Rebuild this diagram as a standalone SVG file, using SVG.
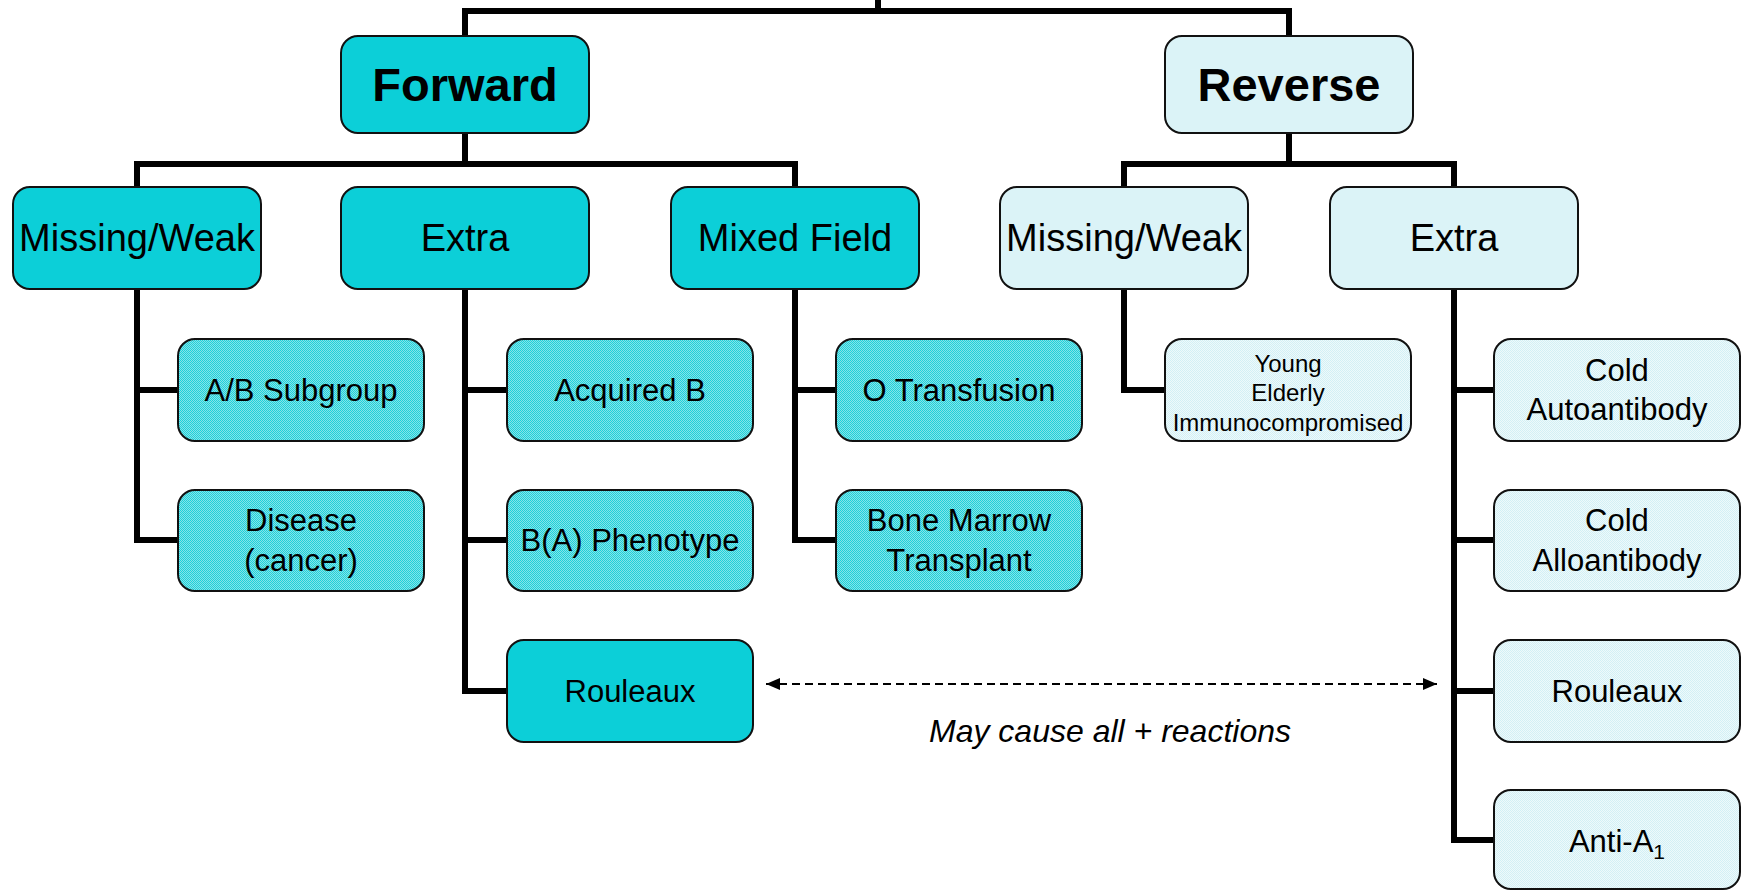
<svg xmlns="http://www.w3.org/2000/svg" width="1742" height="891" viewBox="0 0 1742 891">
<style>
.box{stroke:#111;stroke-width:2}
.dark{fill:#0ccfd8}
.light{fill:#dbf3f7}
.dk3{fill:url(#chkDark)}
.lt3{fill:url(#chkLight)}
.t{font-family:"Liberation Sans",Arial,sans-serif;fill:#000;text-anchor:middle}
.t1{font-size:47px;font-weight:bold}
.t2{font-size:38px}
.t3{font-size:31px}
.t4{font-size:24px}
.conn{fill:none;stroke:#000;stroke-width:6;stroke-linejoin:miter;stroke-linecap:butt}
.dash{fill:none;stroke:#000;stroke-width:2;stroke-dasharray:8 5}
.note{font-family:"Liberation Sans",Arial,sans-serif;font-size:32px;font-style:italic;text-anchor:middle;fill:#000}
</style>
<defs>
<pattern id="chkDark" patternUnits="userSpaceOnUse" width="2" height="2">
<rect width="2" height="2" fill="#86e3e8"/>
<rect width="1" height="1" fill="#1fd1da"/>
<rect x="1" y="1" width="1" height="1" fill="#1fd1da"/>
</pattern>
<pattern id="chkLight" patternUnits="userSpaceOnUse" width="2" height="2">
<rect width="2" height="2" fill="#eef9fb"/>
<rect width="1" height="1" fill="#d2f0f5"/>
<rect x="1" y="1" width="1" height="1" fill="#d2f0f5"/>
</pattern>
<marker id="arrow" viewBox="0 0 14 12" refX="14" refY="6" markerWidth="14" markerHeight="12" markerUnits="userSpaceOnUse" orient="auto-start-reverse">
<path d="M0,0 L14,6 L0,12 Z" fill="#000"/>
</marker>
</defs>

<g id="connectors">
<path class="conn" d="M878,0 V11 M465,36 V11 H1289 V36"/>
<path class="conn" d="M465,133 V164 M137,187 V164 H795 V187"/>
<path class="conn" d="M1289,133 V164 M1124,187 V164 H1454 V187"/>
<path class="conn" d="M137,289 V540 H178 M137,390 H178"/>
<path class="conn" d="M465,289 V691 H507 M465,390 H507 M465,540 H507"/>
<path class="conn" d="M795,289 V540 H836 M795,390 H836"/>
<path class="conn" d="M1124,289 V390 H1165"/>
<path class="conn" d="M1454,289 V840 H1494 M1454,390 H1494 M1454,540 H1494 M1454,691 H1494"/>
<path class="dash" d="M766,684 H1437" marker-start="url(#arrow)" marker-end="url(#arrow)"/>
<text class="note" x="1110" y="742">May cause all + reactions</text>
</g>

<g id="forward">
<rect class="box dark" x="341" y="36" width="248" height="97" rx="17"/>
<text class="t t1" x="465" y="101">Forward</text>
</g>
<g id="reverse">
<rect class="box light" x="1165" y="36" width="248" height="97" rx="17"/>
<text class="t t1" x="1289" y="101">Reverse</text>
</g>

<g id="fwd-missing">
<rect class="box dark" x="13" y="187" width="248" height="102" rx="17"/>
<text class="t t2" x="137" y="251">Missing/Weak</text>
</g>
<g id="fwd-extra">
<rect class="box dark" x="341" y="187" width="248" height="102" rx="17"/>
<text class="t t2" x="465" y="251">Extra</text>
</g>
<g id="fwd-mixed">
<rect class="box dark" x="671" y="187" width="248" height="102" rx="17"/>
<text class="t t2" x="795" y="251">Mixed Field</text>
</g>
<g id="rev-missing">
<rect class="box light" x="1000" y="187" width="248" height="102" rx="17"/>
<text class="t t2" x="1124" y="251">Missing/Weak</text>
</g>
<g id="rev-extra">
<rect class="box light" x="1330" y="187" width="248" height="102" rx="17"/>
<text class="t t2" x="1454" y="251">Extra</text>
</g>

<g id="ab-subgroup">
<rect class="box dk3" x="178" y="339" width="246" height="102" rx="17"/>
<text class="t t3" x="301" y="401">A/B Subgroup</text>
</g>
<g id="disease">
<rect class="box dk3" x="178" y="490" width="246" height="101" rx="17"/>
<text class="t t3" x="301" y="531">Disease</text>
<text class="t t3" x="301" y="571">(cancer)</text>
</g>
<g id="acquired-b">
<rect class="box dk3" x="507" y="339" width="246" height="102" rx="17"/>
<text class="t t3" x="630" y="401">Acquired B</text>
</g>
<g id="ba-phenotype">
<rect class="box dk3" x="507" y="490" width="246" height="101" rx="17"/>
<text class="t t3" x="630" y="551">B(A) Phenotype</text>
</g>
<g id="fwd-rouleaux">
<rect class="box dark" x="507" y="640" width="246" height="102" rx="17"/>
<text class="t t3" x="630" y="702">Rouleaux</text>
</g>
<g id="o-transfusion">
<rect class="box dk3" x="836" y="339" width="246" height="102" rx="17"/>
<text class="t t3" x="959" y="401">O Transfusion</text>
</g>
<g id="bone-marrow">
<rect class="box dk3" x="836" y="490" width="246" height="101" rx="17"/>
<text class="t t3" x="959" y="531">Bone Marrow</text>
<text class="t t3" x="959" y="571">Transplant</text>
</g>
<g id="young-elderly">
<rect class="box lt3" x="1165" y="339" width="246" height="102" rx="17"/>
<text class="t t4" x="1288" y="372">Young</text>
<text class="t t4" x="1288" y="401">Elderly</text>
<text class="t t4" x="1288" y="431">Immunocompromised</text>
</g>
<g id="cold-auto">
<rect class="box lt3" x="1494" y="339" width="246" height="102" rx="17"/>
<text class="t t3" x="1617" y="381">Cold</text>
<text class="t t3" x="1617" y="420">Autoantibody</text>
</g>
<g id="cold-allo">
<rect class="box lt3" x="1494" y="490" width="246" height="101" rx="17"/>
<text class="t t3" x="1617" y="531">Cold</text>
<text class="t t3" x="1617" y="571">Alloantibody</text>
</g>
<g id="rev-rouleaux">
<rect class="box lt3" x="1494" y="640" width="246" height="102" rx="17"/>
<text class="t t3" x="1617" y="702">Rouleaux</text>
</g>
<g id="anti-a1">
<rect class="box lt3" x="1494" y="790" width="246" height="99" rx="17"/>
<text class="t t3" x="1617" y="852">Anti-A<tspan font-size="21" dy="7">1</tspan></text>
</g>
</svg>
